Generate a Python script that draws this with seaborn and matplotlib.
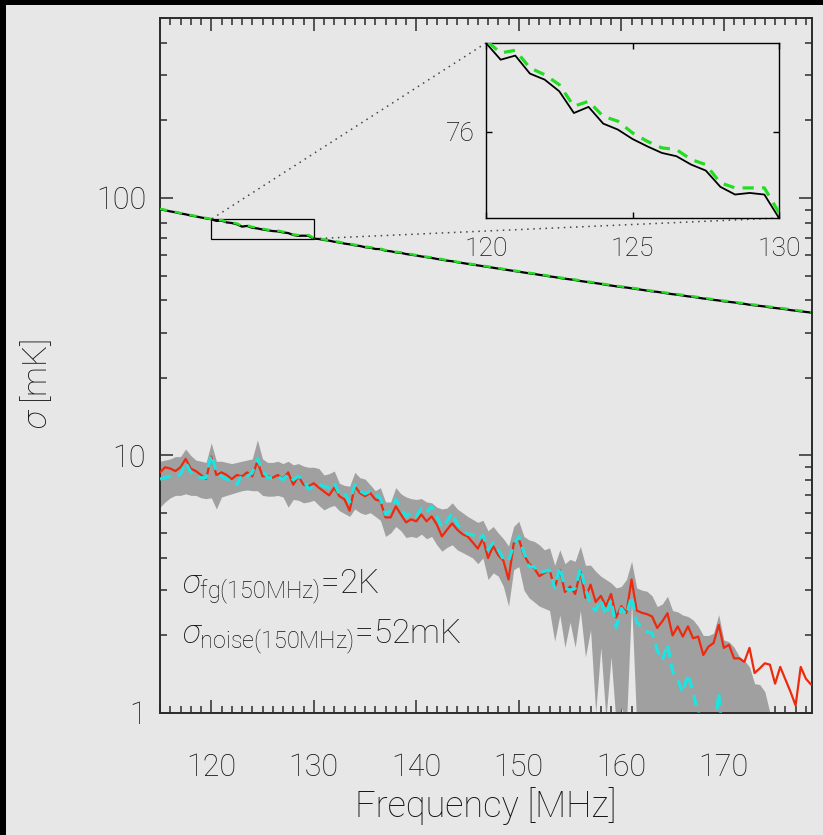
import numpy as np
import pandas as pd
import matplotlib
matplotlib.use("Agg")
import matplotlib.pyplot as plt
import seaborn as sns
from matplotlib.patches import Rectangle
from matplotlib.ticker import MultipleLocator, LogLocator, NullFormatter, FixedLocator
from mpl_toolkits.axes_grid1.inset_locator import mark_inset

# ---------------- data (0.5 MHz channels, 115.0 ... 178.5 MHz) ----------------
freq = np.arange(115.0, 179.0, 0.5)

# total (foreground) sigma, black solid
sigma_total = [
    90.4, 89.6, 88.7, 88.0, 87.1, 86.4, 85.5, 84.8, 84.0, 83.3,
    82.7, 81.44, 81.75, 80.39, 79.94, 79.06, 77.42, 77.88, 76.62, 76.17,
    75.46, 74.91, 74.41, 74.16, 73.53, 73.08, 71.85, 71.27, 71.39, 71.27,
    69.5, 69.3, 68.7, 68.3, 67.6, 67.2, 66.5, 66.1, 65.5, 65.1,
    64.4, 64.1, 63.4, 63.3, 62.4, 62.1, 61.5, 61.2, 60.6, 60.2,
    59.8, 59.3, 58.9, 58.5, 58.0, 57.6, 57.1, 56.8, 56.3, 55.9,
    55.5, 55.1, 54.7, 54.3, 53.9, 53.6, 53.2, 52.8, 52.4, 52.1,
    51.7, 51.3, 51.0, 50.7, 50.3, 50.0, 49.6, 49.3, 48.9, 48.6,
    48.3, 48.0, 47.6, 47.3, 47.0, 46.7, 46.4, 46.0, 45.7, 45.4,
    45.1, 44.9, 44.6, 44.3, 44.0, 43.7, 43.4, 43.2, 42.9, 42.6,
    42.3, 42.1, 41.8, 41.5, 41.3, 41.0, 40.7, 40.5, 40.2, 40.0,
    39.7, 39.5, 39.3, 39.0, 38.8, 38.5, 38.3, 38.1, 37.9, 37.6,
    37.4, 37.2, 37.0, 36.7, 36.5, 36.3, 36.1, 35.9,
]

# total sigma, second estimate, green dashed
sigma_total_alt = [
    90.7, 89.9, 89.0, 88.3, 87.4, 86.7, 85.8, 85.1, 84.3, 83.6,
    82.9, 81.95, 82.15, 80.82, 80.31, 79.56, 77.93, 78.30, 77.17, 76.80,
    75.92, 75.29, 74.79, 74.66, 73.91, 73.53, 72.15, 71.77, 71.77, 71.77,
    69.9, 69.6, 69.0, 68.6, 67.9, 67.5, 66.8, 66.4, 65.8, 65.4,
    64.7, 64.4, 63.7, 63.5, 62.7, 62.4, 61.8, 61.5, 60.9, 60.5,
    60.0, 59.6, 59.1, 58.8, 58.2, 57.9, 57.3, 57.0, 56.5, 56.1,
    55.7, 55.3, 54.9, 54.5, 54.1, 53.8, 53.4, 53.0, 52.6, 52.3,
    51.9, 51.5, 51.2, 50.9, 50.5, 50.2, 49.8, 49.5, 49.1, 48.8,
    48.5, 48.2, 47.8, 47.5, 47.2, 46.9, 46.6, 46.2, 45.9, 45.6,
    45.3, 45.1, 44.8, 44.5, 44.2, 43.9, 43.6, 43.4, 43.1, 42.8,
    42.5, 42.3, 42.0, 41.7, 41.5, 41.2, 40.9, 40.7, 40.4, 40.2,
    39.9, 39.7, 39.5, 39.2, 39.0, 38.7, 38.5, 38.3, 38.1, 37.8,
    37.6, 37.4, 37.2, 36.9, 36.7, 36.5, 36.3, 36.1,
]

# signal sigma, red solid
sigma_signal = [
    8.6, 9.0, 8.9, 8.7, 9.0, 9.7, 8.9, 8.7, 8.4, 8.1,
    9.9, 8.4, 8.6, 8.4, 8.1, 8.4, 8.3, 8.6, 8.3, 9.5,
    8.3, 8.3, 8.2, 8.4, 8.1, 8.6, 7.7, 8.3, 7.7, 7.6,
    7.8, 7.5, 7.25, 7.0, 7.5, 6.95, 6.75, 6.1, 7.6, 7.15,
    6.95, 7.15, 6.75, 6.65, 5.75, 5.75, 6.35, 5.9, 5.5, 5.65,
    5.55, 5.9, 5.55, 5.8, 5.4, 4.85, 5.15, 5.45, 5.15, 4.95,
    4.85, 4.6, 4.35, 4.75, 4.0, 4.45, 4.1, 3.9, 3.3, 4.55,
    4.75, 4.1, 3.8, 3.65, 3.4, 3.5, 3.6, 3.05, 3.6, 2.95,
    3.1, 2.9, 3.55, 2.8, 3.15, 2.7, 2.85, 2.6, 2.9, 2.35,
    2.6, 2.45, 3.3, 2.5, 2.45, 2.42, 2.37, 2.14, 2.27, 2.44,
    2.0, 2.17, 1.98, 2.17, 1.95, 1.98, 1.68, 1.81, 1.87, 2.2,
    1.79, 1.84, 1.63, 1.63, 1.58, 1.79, 1.43, 1.49, 1.56, 1.54,
    1.30, 1.51, 1.35, 1.21, 1.07, 1.51, 1.36, 1.29,
]

# recovered sigma, cyan dashed
sigma_recovered = [
    8.1, 8.2, 8.3, 8.3, 8.45, 9.4, 8.6, 8.3, 8.2, 8.2,
    10.1, 8.55, 8.3, 8.1, 7.95, 7.7, 8.45, 8.3, 8.55, 9.7,
    8.8, 8.2, 8.2, 8.3, 8.05, 8.45, 8.05, 8.3, 8.05, 7.4,
    7.6, 7.7, 7.6, 7.5, 7.85, 7.05, 7.15, 6.6, 7.7, 7.3,
    7.1, 7.25, 7.15, 6.8, 5.9, 6.15, 6.75, 6.25, 5.8, 6.0,
    5.8, 6.25, 6.0, 6.35, 5.8, 5.25, 5.55, 6.0, 5.4, 5.15,
    4.95, 4.93, 4.7, 4.9, 4.3, 4.58, 4.3, 3.95, 3.9, 4.5,
    4.85, 4.2, 3.7, 3.7, 3.5, 3.55, 3.6, 3.05, 3.7, 3.05,
    3.0, 3.05, 3.65, 3.05, 2.6, 2.5, 2.75, 2.4, 2.75, 2.15,
    2.55, 2.4, 2.85, 2.25, 2.15, 2.07, 2.04, 1.75, 1.6, 1.85,
    1.45, 1.35, 1.2, 1.42, 1.2, 1.0, 0.85, 0.8, 0.75, 1.2,
    0.7, 0.62, 0.55, 0.6, 0.5, 0.52, 0.45, 0.48, 0.4, 0.42,
    0.38, 0.4, 0.35, 0.36, 0.32, 0.34, 0.3, 0.31,
]

# 1-sigma band of the recovered sigma (grey)
band_upper = [
    9.5, 9.6, 9.7, 9.9, 9.9, 10.6, 10.0, 9.6, 9.5, 9.4,
    11.2, 9.5, 9.5, 9.4, 9.3, 9.4, 9.5, 9.6, 9.7, 11.5,
    9.7, 9.4, 9.4, 9.5, 9.3, 9.5, 9.2, 9.3, 9.1, 9.0,
    9.0, 8.9, 8.4, 8.5, 8.7, 7.8, 7.65, 7.6, 8.6, 8.2,
    8.1, 7.7, 7.3, 7.5, 6.6, 6.6, 7.5, 7.1, 6.9, 6.8,
    6.75, 6.8, 6.6, 6.55, 6.3, 6.2, 6.25, 6.55, 6.2, 6.0,
    5.8, 5.65, 5.5, 5.6, 5.1, 5.3, 5.0, 4.75, 4.45, 5.3,
    5.55, 4.85, 4.7, 4.64, 4.5, 4.3, 4.38, 3.75, 4.3, 3.8,
    3.95, 3.88, 4.44, 3.75, 3.75, 3.55, 3.4, 3.3, 3.2, 3.06,
    3.1, 3.3, 3.88, 3.06, 3.0, 2.97, 2.85, 2.59, 2.65, 2.84,
    2.5, 2.47, 2.4, 2.37, 2.3, 2.17, 2.0, 2.0, 2.04, 2.41,
    1.92, 1.89, 1.8, 1.66, 1.6, 1.51, 1.3, 1.29, 1.21, 1.0,
    0.9, 0.8, 0.7, 0.6, 0.55, 0.5, 0.45, 0.4,
]
band_lower = [
    6.3, 6.6, 6.85, 7.0, 7.0, 7.1, 7.0, 7.0, 6.85, 6.8,
    6.85, 6.2, 6.9, 7.0, 7.1, 7.2, 7.3, 7.35, 7.3, 7.3,
    7.0, 6.95, 6.95, 7.0, 6.9, 6.3, 6.75, 6.7, 6.55, 6.6,
    6.7, 6.4, 6.15, 6.3, 6.4, 6.1, 5.95, 5.8, 6.2, 6.0,
    5.9, 6.0, 5.8, 5.6, 4.85, 5.0, 5.3, 5.1, 4.8, 4.85,
    4.8, 4.95, 4.75, 4.85, 4.5, 4.25, 4.4, 4.5, 4.3, 4.2,
    4.1, 4.0, 3.8, 4.0, 3.3, 3.5, 3.4, 3.1, 2.6, 3.6,
    3.7, 3.0, 2.8, 2.7, 2.6, 2.55, 2.5, 1.9, 2.4, 1.8,
    2.25, 1.8, 2.5, 1.65, 2.1, 1.0, 1.8, 0.95, 1.65, 0.9,
    1.05, 0.9, 2.7, 0.9, 0.8, 0.75, 0.7, 0.65, 0.6, 0.6,
    0.55, 0.5, 0.5, 0.45, 0.45, 0.4, 0.4, 0.35, 0.35, 0.3,
    0.3, 0.3, 0.28, 0.26, 0.25, 0.24, 0.22, 0.21, 0.2, 0.2,
    0.19, 0.18, 0.17, 0.16, 0.15, 0.15, 0.14, 0.14,
]

x_ticks = [120, 130, 140, 150, 160, 170]
y_ticks = [1, 10, 100]
y_ticklabels = ["1", "10", "100"]
inset_xticks = [120, 125, 130]
inset_yticks = [76]
label_fg = r"$\sigma_{\mathrm{fg(150MHz)}}$=2K"
label_noise = r"$\sigma_{\mathrm{noise(150MHz)}}$=52mK"

df = pd.DataFrame({
    "freq": freq,
    "total": sigma_total,
    "total_alt": sigma_total_alt,
    "signal": sigma_signal,
    "recovered": sigma_recovered,
    "lo": band_lower,
    "hi": band_upper,
})

# ---------------- style ----------------
sns.set_theme(style="ticks")
BG = "#e7e7e7"
FG = "#2b2b2b"
TXT = "#141414"
plt.rcParams["font.family"] = ["Roboto", "DejaVu Sans"]
plt.rcParams["font.weight"] = "light"
plt.rcParams["axes.labelweight"] = "light"
plt.rcParams["mathtext.fontset"] = "custom"
plt.rcParams["mathtext.rm"] = "Roboto:light"
plt.rcParams["mathtext.it"] = "Roboto:italic:light"
plt.rcParams["mathtext.sf"] = "Roboto:light"

W, H = 823, 835
fig = plt.figure(figsize=(W / 100, H / 100), dpi=100, facecolor=BG)
ax = fig.add_axes([160 / W, 1 - 713 / H, 652 / W, 695 / H])
ax.set_facecolor(BG)
ax.set_yscale("log")

ax.fill_between(df["freq"], df["lo"], df["hi"], color="#a0a0a0", lw=0, zorder=1)
sns.lineplot(data=df, x="freq", y="signal", ax=ax, color="#ee2a0e", lw=1.6, zorder=3)
sns.lineplot(data=df, x="freq", y="recovered", ax=ax, color="#1ee3e3", lw=2.3,
             linestyle=(0, (3.5, 2.2)), zorder=4)
sns.lineplot(data=df, x="freq", y="total", ax=ax, color="black", lw=1.6, zorder=3)
sns.lineplot(data=df, x="freq", y="total_alt", ax=ax, color="#22dd22", lw=1.8,
             linestyle=(0, (3.0, 3.0)), zorder=4)

ax.set_xlim(115, 178.6)
ax.set_ylim(1, 500)
ax.xaxis.set_major_locator(FixedLocator(x_ticks))
ax.xaxis.set_minor_locator(MultipleLocator(1))
ax.set_yticks(y_ticks)
ax.set_yticklabels(y_ticklabels)
ax.yaxis.set_minor_locator(LogLocator(base=10, subs=np.arange(2, 10)))
ax.yaxis.set_minor_formatter(NullFormatter())
ax.tick_params(which="both", direction="in", top=True, right=True, color=FG,
               width=1.1, labelcolor=TXT)
ax.tick_params(which="major", length=9.5, labelsize=22)
ax.tick_params(which="minor", length=5)
ax.tick_params(axis="x", which="major", pad=28.5)
ax.tick_params(axis="y", which="major", pad=10)
for s in ax.spines.values():
    s.set_color(FG)
    s.set_linewidth(1.4)

ax.set_xlabel("Frequency [MHz]", fontsize=26, color=TXT, labelpad=4,
              fontweight="light")
ax.set_ylabel(r"$\sigma$ [mK]", fontsize=24, color=TXT, fontweight="light")
ax.yaxis.set_label_coords(-0.162, 0.473)

fig.text(182 / W, 1 - 593 / H, label_fg, fontsize=24, color=TXT,
         ha="left", va="baseline")
fig.text(182 / W, 1 - 643 / H, label_noise, fontsize=24, color=TXT,
         ha="left", va="baseline")

# ---------------- inset ----------------
axins = fig.add_axes([486 / W, 1 - 218 / H, 293 / W, 175 / H])
axins.set_facecolor(BG)
sns.lineplot(data=df, x="freq", y="total", ax=axins, color="black", lw=1.3, zorder=3)
sns.lineplot(data=df, x="freq", y="total_alt", ax=axins, color="#22dd22", lw=2.3,
             linestyle=(0, (3.5, 2.6)), zorder=4)
axins.set_xlim(120, 130)
axins.set_ylim(69.5, 82.7)
axins.set_xticks(inset_xticks)
axins.set_yticks(inset_yticks)
axins.set_xlabel("")
axins.set_ylabel("")
axins.tick_params(direction="in", top=True, right=True, length=4, width=1,
                  color="black", labelsize=19, labelcolor=TXT)
axins.tick_params(axis="x", pad=14)
axins.tick_params(axis="y", pad=8)
for s in axins.spines.values():
    s.set_color("black")
    s.set_linewidth(1.0)

pp, p1, p2 = mark_inset(ax, axins, loc1=2, loc2=4, fc="none", ec="black", lw=0.9)
for p in (p1, p2):
    p.set_linestyle((0, (1, 3)))
    p.set_color("#444444")
    p.set_linewidth(1.1)

# black frame strips of the original picture
fig.add_artist(Rectangle((0, 0), 6 / W, 1, transform=fig.transFigure,
                         color="black", lw=0, zorder=10))
fig.add_artist(Rectangle((0, 1 - 5 / H), 1, 5 / H, transform=fig.transFigure,
                         color="black", lw=0, zorder=10))

fig.savefig("out.png", dpi=100, facecolor=BG)
